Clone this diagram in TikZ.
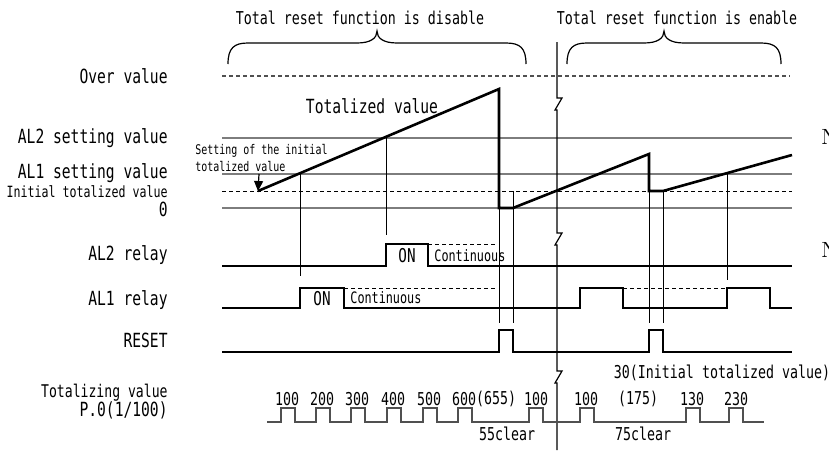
\documentclass[tikz,border=0pt]{standalone}
\usepackage{fontspec}
\newfontfamily\chartfont[FakeStretch=0.75]{DejaVu Sans Mono}
\definecolor{chartGray}{RGB}{125,125,125}
\definecolor{chartDark}{RGB}{80,80,80}
\usetikzlibrary{arrows.meta}

\begin{document}
\begin{tikzpicture}[
  x=0.5pt, y=-0.5pt,
  lvl/.style={draw=chartGray, line width=1pt},
  sig/.style={draw=black, line width=1.3pt},
  guide/.style={draw=black, line width=0.5pt},
  dsh/.style={draw=black, line width=0.5pt, dash pattern=on 2pt off 1.5pt},
  lbl/.style={anchor=east, inner sep=0pt, font=\chartfont\fontsize{9.75}{11}\selectfont},
  txt/.style={inner sep=0pt, font=\chartfont\fontsize{8.86}{10}\selectfont},
  small/.style={inner sep=0pt, font=\chartfont\fontsize{7.86}{9}\selectfont},
  arr/.style={-{Triangle[length=5pt, width=4.5pt]}, line width=0.6pt}
]
  \useasboundingbox (0,0) rectangle (829,450);

  % headings and braces
  \node[txt] (hdis) at (360,18) {Total reset function is disable};
  \node[txt] (hen) at (677,18) {Total reset function is enable};
  \foreach \a/\b/\m in {228/526/377, 567/781/664} {
    \draw[line width=0.6pt] (\a,64) .. controls (\a,48) and ({\a+6},43) .. ({\a+20},43)
      -- ({\m-20},43) .. controls ({\m-6},43) and (\m,38) .. (\m,31)
      .. controls (\m,38) and ({\m+6},43) .. ({\m+20},43)
      -- ({\b-20},43) .. controls ({\b-6},43) and (\b,48) .. (\b,64);
  }

  % left labels
  \node[lbl] (lover) at (168,76) {Over value};
  \node[lbl] (lal2) at (168,138) {AL2 setting value};
  \node[lbl] (lal1) at (168,173) {AL1 setting value};
  \node[lbl, font=\chartfont\fontsize{7.75}{9}\selectfont] (linit) at (168,192) {Initial totalized value};
  \node[lbl] (lzero) at (168,209) {0};
  \node[lbl] (lrel2) at (168,255) {AL2 relay};
  \node[lbl] (lrel1) at (168,300) {AL1 relay};
  \node[lbl] (lreset) at (168,340) {RESET};
  \node[lbl, font=\chartfont\fontsize{8.75}{10}\selectfont] (ltot) at (168,393) {Totalizing value};
  \node[lbl] (lpo) at (168,410) {P.0(1/100)};

  % level lines
  \draw[draw=chartDark, line width=0.7pt, dash pattern=on 2pt off 1.5pt] (222,76) -- (790,76);
  \foreach \y in {138,174,208} \draw[lvl] (222,\y) -- (792,\y);
  \draw[dsh] (222,191) -- (792,191);

  % break line
  \draw[line width=0.6pt] (557,42) -- (557,98) -- ++(5,0) -- ++(-7,12) -- ++(2,0)
    -- (557,233) -- ++(5,0) -- ++(-7,12) -- ++(2,0)
    -- (557,371) -- ++(5,0) -- ++(-7,12) -- ++(2,0) -- (557,450);

  % totalized value
  \node[txt, font=\chartfont\fontsize{9.75}{11}\selectfont] (tval) at (372,106) {Totalized value};
  \draw[sig] (258,191) coordinate (t0) -- (499,89) -- (499,208) -- (513,208)
    -- (649,154) -- (649,191) -- (663,191) -- (792,155);
  \node[anchor=north west, inner sep=0pt, align=left,
    font=\chartfont\fontsize{6.65}{8.5}\selectfont] (tset) at (195,144)
    {Setting of the initial\\totalized value};
  \coordinate (tsrc) at (259,174);
  \draw[arr] (tsrc) -- (t0);

  % guides
  \draw[guide] (300,174) -- (300,276);
  \draw[guide] (386,138) -- (386,235);
  \foreach \x in {499,513,649,663} \draw[guide] (\x,191) -- (\x,323);
  \draw[guide] (727,174) -- (727,280);

  % relays
  \draw[sig] (222,266) -- (386,266) -- (386,244) -- (428,244) -- (428,266) -- (792,266);
  \draw[dsh] (428,244) -- (498,244);
  \node[txt, font=\chartfont\fontsize{9.5}{11}\selectfont] (on2) at (407,256) {ON};
  \node[small, anchor=west] (cont2) at (434,256) {Continuous};

  \draw[sig] (222,308) -- (300,308) -- (300,288) -- (344,288) -- (344,308) -- (580,308)
    -- (580,288) -- (623,288) -- (623,308) -- (727,308) -- (727,288) -- (770,288)
    -- (770,308) -- (792,308);
  \draw[dsh] (344,288) -- (498,288);
  \draw[dsh] (623,288) -- (727,288);
  \node[txt, font=\chartfont\fontsize{9.5}{11}\selectfont] (on1) at (322,299) {ON};
  \node[small, anchor=west] (cont1) at (350,298) {Continuous};

  \draw[sig] (222,352) -- (499,352) -- (499,330) -- (513,330) -- (513,352) -- (649,352)
    -- (649,330) -- (663,330) -- (663,352) -- (792,352);

  % pulse train
  \draw[draw=chartDark, line width=0.7pt] (267,422)
    \foreach \s in {281,316,351,387,423,458,529,580,686,729} {
      -- (\s,422) -- (\s,408) -- ({\s+14},408) -- ({\s+14},422) }
    -- (764,422);
  \foreach \x/\v in {287/100, 322/200, 357/300, 393/400, 429/500, 464/600,
                     496/(655), 536/100, 586/100, 638/(175), 692/130, 736/230}
    \node[txt] at (\x,399) {\v};
  \node[txt] (c55) at (507,434) {55clear};
  \node[txt] (c75) at (643,434) {75clear};
  \node[txt] (init30) at (722,373) {30(Initial totalized value)};

  % cut-off notes
  \node[anchor=west, inner sep=0pt, font=\fontsize{11}{13}\selectfont] (n1) at (821,137) {N};
  \node[anchor=west, inner sep=0pt, font=\fontsize{11}{13}\selectfont] (n2) at (821,250) {N};
\end{tikzpicture}
\end{document}
